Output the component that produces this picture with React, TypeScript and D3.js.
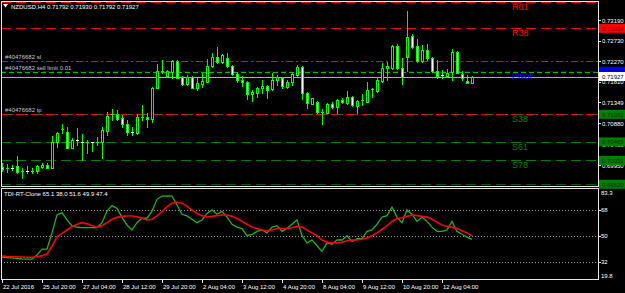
import React from "react";
import * as d3 from "d3";

const opens = [0.69912,0.69868,0.6989,0.69927,0.69801,0.69816,0.69812,0.69816,0.69905,0.6995,
0.6989,0.70456,0.7074,0.7068,0.70337,0.705,0.70456,0.70449,0.70456,0.70449,
0.70456,0.70717,0.71075,0.71089,0.71007,0.70866,0.70695,0.70657,0.71015,0.71022,
0.70978,0.71678,0.72035,0.71939,0.72035,0.72274,0.71909,0.71752,0.71924,0.71678,
0.7176,0.71812,0.7217,0.72371,0.72244,0.72333,0.7217,0.71976,0.71849,0.71812,
0.71529,0.71566,0.71663,0.71715,0.71641,0.71842,0.71901,0.717,0.71797,0.71961,
0.7214,0.71551,0.7132,0.7135,0.71119,0.71119,0.71305,0.71253,0.71402,0.71343,
0.71469,0.71276,0.7138,0.71365,0.71633,0.71611,0.71834,0.7211,0.7211,0.72609,
0.7211,0.72371,0.72832,0.72609,0.72281,0.7252,0.72348,0.7205,0.71961,0.71939,
0.72035,0.72467,0.71983,0.71834,0.71792];
const highs = [0.69987,0.69972,0.6995,0.70151,0.69875,0.69927,0.69875,0.6995,0.69987,0.70002,
0.70598,0.70687,0.70866,0.70791,0.70546,0.70769,0.70635,0.70508,0.70471,0.70583,
0.70806,0.71142,0.71201,0.71179,0.71067,0.70955,0.70806,0.71089,0.71291,0.71104,
0.717,0.72199,0.72296,0.72073,0.72296,0.72296,0.71939,0.71953,0.71946,0.71886,
0.71998,0.72311,0.72445,0.72579,0.7243,0.72445,0.72184,0.72035,0.71946,0.71827,
0.71626,0.717,0.71849,0.71737,0.71998,0.71961,0.71924,0.71849,0.71998,0.72184,
0.7217,0.71589,0.71454,0.7138,0.71201,0.71328,0.7135,0.71425,0.7144,0.71603,
0.71499,0.71402,0.71529,0.71797,0.71663,0.71924,0.72222,0.72259,0.72631,0.72646,
0.72333,0.73391,0.72877,0.72765,0.72631,0.72654,0.72371,0.72296,0.72073,0.72088,
0.72542,0.72497,0.7205,0.71961,0.7193];
const lows = [0.69823,0.69801,0.69838,0.69778,0.69652,0.69764,0.69778,0.69764,0.69875,0.69875,
0.69875,0.70345,0.70657,0.70322,0.70322,0.70397,0.70061,0.7021,0.70262,0.70397,
0.70099,0.7062,0.70955,0.70955,0.70806,0.7062,0.7062,0.70635,0.70955,0.70791,
0.70918,0.71663,0.71998,0.71909,0.71901,0.71901,0.71737,0.71737,0.71663,0.71626,
0.717,0.71797,0.72147,0.72237,0.72222,0.72147,0.71961,0.71812,0.71723,0.71425,
0.71387,0.71477,0.71551,0.71454,0.71626,0.71737,0.71678,0.71663,0.71737,0.71924,
0.71425,0.71216,0.71305,0.71104,0.70866,0.71104,0.71216,0.71104,0.71343,0.71305,
0.71276,0.71104,0.7129,0.7135,0.71477,0.71574,0.71812,0.71849,0.72088,0.72088,
0.71752,0.7205,0.72572,0.72259,0.72259,0.72296,0.72035,0.71886,0.71901,0.71924,
0.71849,0.71998,0.71849,0.71775,0.71792];
const closes = [0.69853,0.6989,0.6986,0.69793,0.69808,0.69812,0.6982,0.69927,0.6995,0.6989,
0.70471,0.70657,0.70755,0.70337,0.70508,0.70486,0.70449,0.70456,0.70449,0.70463,
0.70732,0.71045,0.7109,0.70978,0.70866,0.7068,0.70657,0.71015,0.71022,0.70978,
0.71663,0.7205,0.7205,0.7205,0.72274,0.71901,0.71752,0.71924,0.71678,0.71775,
0.71834,0.7217,0.72371,0.72244,0.72408,0.7217,0.71976,0.71849,0.71797,0.71529,
0.71588,0.71663,0.71715,0.71626,0.71849,0.71924,0.71715,0.71812,0.71976,0.7214,
0.71551,0.71328,0.7144,0.71127,0.71127,0.71305,0.71253,0.71402,0.71358,0.71469,
0.7129,0.7138,0.71395,0.71626,0.71641,0.71849,0.72125,0.72162,0.72609,0.7211,
0.71924,0.72818,0.72587,0.72281,0.7252,0.72333,0.72058,0.71939,0.71953,0.72013,
0.72467,0.71998,0.71886,0.7179,0.71927];

const tdiGreen = [35.0,34.8,34.6,34.2,33.8,33.6,33.6,36.5,40.7,40.7,
52.0,64.5,66.1,61.0,56.8,55.9,55.7,55.7,55.7,55.7,
59.1,67.2,71.0,69.1,62.8,57.5,54.0,59.1,62.2,62.2,
67.2,75.4,77.7,77.8,77.7,71.4,65.0,63.8,61.5,59.1,61.0,65.6,
68,65,67,63,58,56,55,50,51,53,54,52,
56,57,53,55,58,61,50,45,47,43,39,45,
44,47,47,50,46,48,48,53,54,58,63,64,
70,63,59,68,65,60,63,60,56,53,53,54,60,53,51,49,47.4];
const tdiRed = [35.8,35.5,35.3,35.3,35.2,35.0,35.0,35.3,36.1,37.2,
42.8,49.3,51.7,54.0,56.3,58.0,59.1,58.4,57.0,55.9,
57.0,59.1,61.5,62.8,63.5,63.8,63.8,63.3,62.2,61.0,
61.5,63.8,66.8,70.3,72.6,73.3,72.6,70.7,67.9,65.6,64.0,63.3,
63.5,64,64.5,64.5,63.5,62,60,58,56,55,54,53.5,
54,55,55,55,55.5,56.5,56,54,52,50,47,45.5,
45,45,45.5,46.5,47,47,47.5,48.5,50,52,54.5,57,
60,62,62.5,63.5,64.5,64,63.5,63,61.5,59.5,57.5,56.5,56,55,53.5,52,49.9];

const priceTicks = [0.7319, 0.7273, 0.7227, 0.7181, 0.71349, 0.7088, 0.7041, 0.6995];
const rsiLevels = [68, 50, 32];
const rsiTickLabels = ["83.3", "68", "50", "32", "19.8"];
const rsiTickValues = [83.3, 68, 50, 32, 19.8];
const timeLabels = ["22 Jul 2016","25 Jul 20:00","27 Jul 04:00","28 Jul 12:00","29 Jul 20:00","2 Aug 04:00","3 Aug 12:00","4 Aug 20:00","8 Aug 04:00","9 Aug 12:00","10 Aug 20:00","12 Aug 04:00"];
const timeLabelBars = [0,8,16,24,32,40,48,56,64,72,80,88];

const pivotNames = ["R61","R38","Pivot","S38","S61","S78","S100"];
const pivotPrices = [0.73598, 0.73004, 0.72043, 0.71082, 0.70465, 0.70051, 0.6952];
const orderNames = ["#40476682 sl", "#40476682 sell limit 0.01", "#40476682 tp"];
const orderPrices = [0.7227, 0.7204, 0.7110];
const bidPrice = 0.71927;

const FONT = "'Liberation Sans', Arial, sans-serif";

export default function App() {
  const x = d3.scaleLinear().domain([0, 94]).range([2, 472]);
  const y = d3.scaleLinear().domain([0.6995, 0.7319]).range([165, 20]);
  const yr = d3.scaleLinear().domain([19.8, 83.3]).range([279, 188]);
  const fmt = d3.format(".5f");
  const idx = d3.range(closes.length);

  const lineG = d3.line<number>().x((_, i) => x(i)).y((d) => yr(d));
  const pivotColors = ["#ff0000","#ff0000","#0000ff","#008000","#008000","#008000","#006000"];
  const pivotDash = ["10,5","10,5","6,3,2,3","10,5","10,5","10,5","10,5"];
  const orderColors = ["#ff0000","#00c000","#ff0000"];
  const orderDash = ["7,3,2,3","5,3","7,3,2,3"];
  const boxFill = ["#ff0000","#0000ff","#008000","#008000","#008000","#008000"];
  const boxText = ["#7a0000","#000070","#003000","#003000","#003000","#003000"];
  const boxPrices = pivotPrices.slice(1);

  return (
    <svg width={625} height={293} style={{ position: "fixed", left: 0, top: 0, background: "#000" }}>
      <rect x={0} y={0} width={625} height={293} fill="#000" />
      <defs>
        <clipPath id="mainClip"><rect x={1} y={1} width={597} height={185} /></clipPath>
        <clipPath id="subClip"><rect x={1} y={188} width={597} height={91} /></clipPath>
      </defs>

      <g clipPath="url(#mainClip)">
        {pivotPrices.map((p, k) => (
          <line key={"pv" + k} x1={1} x2={598} y1={Math.round(y(p)) + 0.5} y2={Math.round(y(p)) + 0.5}
            stroke={pivotColors[k]} strokeWidth={1} strokeDasharray={pivotDash[k]} />
        ))}
        {orderPrices.map((p, k) => (
          <line key={"or" + k} x1={1} x2={598} y1={Math.round(y(p)) + 0.5 + (k === 1 ? 1 : 0)} y2={Math.round(y(p)) + 0.5 + (k === 1 ? 1 : 0)}
            stroke={orderColors[k]} strokeWidth={1} strokeDasharray={orderDash[k]} />
        ))}
        <line x1={1} x2={598} y1={Math.round(y(bidPrice)) + 0.5} y2={Math.round(y(bidPrice)) + 0.5} stroke="#a8b0c0" strokeWidth={1} />

        {idx.map((i) => {
          const cx = Math.round(x(i));
          const o = opens[i], c = closes[i];
          const top = Math.round(y(Math.max(o, c)));
          const bot = Math.round(y(Math.min(o, c)));
          const bull = c > o;
          return (
            <g key={"c" + i}>
              <line x1={cx + 0.5} x2={cx + 0.5} y1={Math.round(y(highs[i]))} y2={Math.round(y(lows[i])) + 1} stroke="#00ff00" strokeWidth={1} />
              {bot - top >= 2 ? (
                <rect x={cx - 0.5} y={top + 0.5} width={2} height={bot - top}
                  fill={bull ? "#000" : "#fff"} stroke="#00ff00" strokeWidth={1} />
              ) : (
                <rect x={cx - 1} y={top} width={3} height={Math.max(bot - top, 1)} fill={bull ? "#00ff00" : "#fff"} />
              )}
            </g>
          );
        })}

        {pivotPrices.map((p, k) => (
          <text key={"pt" + k} x={512} y={y(p) + 8} fill={pivotColors[k] === "#006000" ? "#008000" : pivotColors[k]} fontFamily={FONT} fontSize={9}>{pivotNames[k]}</text>
        ))}
        {orderPrices.map((p, k) => (
          <text key={"ot" + k} x={5} y={y(p) - 2 + (k === 1 ? 1 : 0)} fill="#c8c8c8" fontFamily={FONT} fontSize={6}>{orderNames[k]}</text>
        ))}
      </g>

      {/* header */}
      <path d="M3,4 L8,4 L5.5,7.5 Z" fill="#ffffff" />
      <text x={11} y={8.5} fill="#ffffff" fontFamily={FONT} fontSize={6}>NZDUSD,H4  0.71792 0.71930 0.71792 0.71927</text>

      {/* indicator */}
      <g clipPath="url(#subClip)">
        {rsiLevels.map((v, k) => (
          <line key={"lv" + k} x1={1} x2={598} y1={Math.round(yr(v)) + 0.5} y2={Math.round(yr(v)) + 0.5}
            stroke="#9a9a9a" strokeWidth={1} strokeDasharray="1,2" />
        ))}
        <path d={lineG(tdiGreen) || ""} fill="none" stroke="#1fb31f" strokeWidth={1.3} />
        <path d={lineG(tdiRed) || ""} fill="none" stroke="#ff0000" strokeWidth={1.6} />
      </g>
      <text x={4} y={196} fill="#ffffff" fontFamily={FONT} fontSize={6}>TDI-RT-Clone 65.1 38.0 51.6 49.9 47.4</text>

      {/* frames */}
      <rect x={1.5} y={1.5} width={597} height={185} fill="none" stroke="#e8e8e8" strokeWidth={1} />
      <rect x={1.5} y={188.5} width={597} height={91} fill="none" stroke="#e8e8e8" strokeWidth={1} />

      {/* price axis */}
      {priceTicks.map((p, k) => (
        <g key={"tk" + k}>
          <line x1={598} x2={601} y1={Math.round(y(p)) + 0.5} y2={Math.round(y(p)) + 0.5} stroke="#e8e8e8" />
          <text x={602} y={y(p) + 2.5} fill="#ffffff" fontFamily={FONT} fontSize={6}>{fmt(p)}</text>
        </g>
      ))}
      {boxPrices.map((p, k) => (
        <g key={"bx" + k}>
          <rect x={599} y={y(p) - 4.5} width={26} height={9} fill={boxFill[k]} />
          <text x={602} y={y(p) + 2.5} fill={boxText[k]} fontFamily={FONT} fontSize={6}>{fmt(p)}</text>
        </g>
      ))}
      <rect x={599} y={y(bidPrice) - 4.5} width={26} height={9} fill="#ffffff" />
      <text x={602} y={y(bidPrice) + 2.5} fill="#000000" fontFamily={FONT} fontSize={6}>{fmt(bidPrice)}</text>

      {/* rsi axis */}
      {rsiTickValues.map((v, k) => {
        const yy = k === 0 ? 195 : k === 4 ? 278 : yr(v) + 2.5;
        return (
          <g key={"rt" + k}>
            {k > 0 && k < 4 && <line x1={598} x2={601} y1={Math.round(yr(v)) + 0.5} y2={Math.round(yr(v)) + 0.5} stroke="#e8e8e8" />}
            <text x={601} y={yy} fill="#ffffff" fontFamily={FONT} fontSize={6}>{rsiTickLabels[k]}</text>
          </g>
        );
      })}

      {/* time axis */}
      {timeLabels.map((t, k) => {
        const tx = Math.round(x(timeLabelBars[k]));
        return (
          <g key={"tl" + k}>
            <line x1={tx + 0.5} x2={tx + 0.5} y1={280} y2={283} stroke="#e8e8e8" />
            <text x={tx + 1} y={288.5} fill="#ffffff" fontFamily={FONT} fontSize={6}>{t}</text>
          </g>
        );
      })}
    </svg>
  );
}
